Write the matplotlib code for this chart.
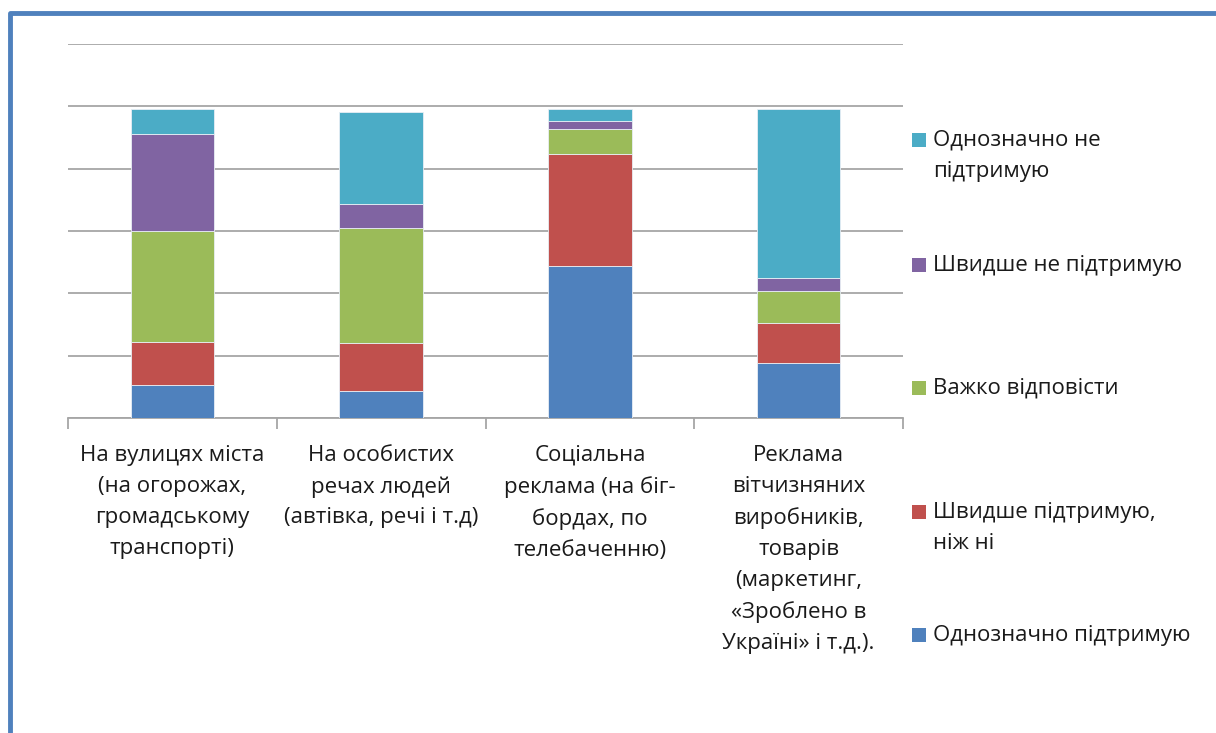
import numpy as np
import matplotlib.pyplot as plt
from matplotlib.patches import Rectangle
from matplotlib.lines import Line2D

plt.rcParams['font.family'] = ['Open Sans', 'DejaVu Sans']

categories = [
    "На вулицях міста\n(на огорожах,\nгромадському\nтранспорті)",
    "На особистих\nречах людей\n(автівка, речі і т.д)",
    "Соціальна\nреклама (на біг-\nбордах, по\nтелебаченню)",
    "Реклама\nвітчизняних\nвиробників,\nтоварів\n(маркетинг,\n«Зроблено в\nУкраїні» і т.д.).",
]

# stacked from bottom to top, percent
strongly_support = [10.7, 8.7, 48.9, 17.6]
rather_support = [13.6, 15.3, 35.9, 12.8]
hard_to_say = [35.8, 37.0, 8.0, 10.3]
rather_not = [30.9, 7.8, 2.6, 4.2]
strongly_not = [8.1, 29.5, 3.6, 54.2]

series = [
    ("Однозначно підтримую", strongly_support, "#4F81BD"),
    ("Швидше підтримую,\nніж ні", rather_support, "#C0504D"),
    ("Важко відповісти", hard_to_say, "#9BBB59"),
    ("Швидше не підтримую", rather_not, "#8064A2"),
    ("Однозначно не\nпідтримую", strongly_not, "#4BACC6"),
]

fig = plt.figure(figsize=(12.16, 7.33), dpi=100)
ax = fig.add_axes([68 / 1216, 1 - 418 / 733, (903 - 68) / 1216, (418 - 44) / 733])

x = np.arange(len(categories))
bottom = np.zeros(len(categories))
for name, vals, col in series:
    ax.bar(x, vals, width=0.4, bottom=bottom, color=col, edgecolor="#e8eef5",
           linewidth=0.6, zorder=3)
    bottom += np.array(vals)

ax.set_xlim(-0.5, len(categories) - 0.5)
ax.set_ylim(0, 120)
ax.set_yticks(np.arange(0, 121, 20))
ax.yaxis.grid(True, color="#a6a6a6", linewidth=1.3, zorder=0)
ax.tick_params(axis="y", left=False, labelleft=False)
for s in ["left", "right", "top"]:
    ax.spines[s].set_visible(False)
ax.spines["bottom"].set_color("#a6a6a6")
ax.spines["bottom"].set_linewidth(1.3)
ax.set_xticks(np.arange(-0.5, len(categories), 1.0))
ax.set_xticklabels([])
ax.tick_params(axis="x", length=8, width=1.3, color="#a6a6a6")

for i, lab in enumerate(categories):
    ax.text(i, -8.6, lab, ha="center", va="top", fontsize=16,
            color="#1a1a1a", linespacing=1.62, transform=ax.transData)

# legend drawn by hand to match spacing of the original
leg_y = [635, 512, 388, 265, 140]
for (name, vals, col), yy in zip(series, leg_y):
    fig.patches.append(Rectangle((912 / 1216, 1 - (yy + 7) / 733), 14 / 1216, 14 / 733,
                                 transform=fig.transFigure, facecolor=col,
                                 edgecolor="none"))
    fig.text(933 / 1216, 1 - (yy - 10) / 733, name, ha="left", va="top",
             fontsize=16, color="#1a1a1a", linespacing=1.62)

# blue frame at left and top
fig.lines.append(Line2D([10 / 1216, 10 / 1216, 1.0], [0.0, 1 - 13 / 733, 1 - 13 / 733],
                        transform=fig.transFigure, color="#4F81BD", linewidth=3.5,
                        solid_joinstyle="round"))

fig.savefig("out.png", dpi=100)
